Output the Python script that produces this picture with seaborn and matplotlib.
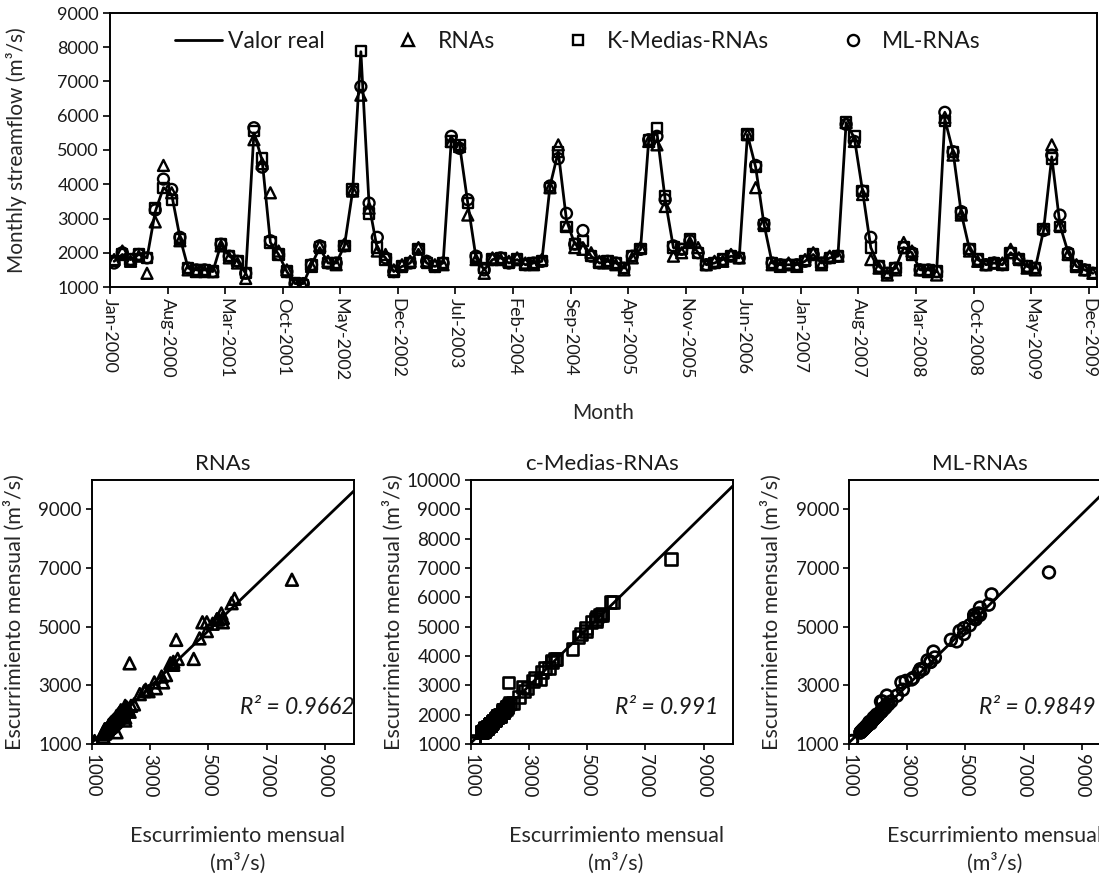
import numpy as np
import pandas as pd
import matplotlib
matplotlib.use("Agg")
import matplotlib.pyplot as plt
import seaborn as sns
from matplotlib.lines import Line2D

# ---------------- data ----------------
tick_labels = ["Jan-2000", "Aug-2000", "Mar-2001", "Oct-2001", "May-2002", "Dec-2002",
               "Jul-2003", "Feb-2004", "Sep-2004", "Apr-2005", "Nov-2005", "Jun-2006",
               "Jan-2007", "Aug-2007", "Mar-2008", "Oct-2008", "May-2009", "Dec-2009"]

valor_real = [1750, 1950, 1800, 1950, 1850, 3200, 3900, 3700, 2450, 1550,
              1500, 1500, 1450, 2250, 1900, 1750, 1400, 5500, 4700, 2300,
              1950, 1450, 1100, 1100, 1650, 2150, 1700, 1700, 2200, 3800,
              7870, 3400, 2100, 1850, 1450, 1600, 1700, 2100, 1700, 1600,
              1700, 5300, 5150, 3450, 1850, 1500, 1800, 1850, 1700, 1800,
              1650, 1700, 1750, 3950, 4950, 2950, 2250, 2300, 1900, 1700,
              1750, 1700, 1550, 1900, 2100, 5300, 5500, 3550, 2150, 2100,
              2350, 2000, 1650, 1700, 1800, 1900, 1850, 5450, 4500, 2850,
              1700, 1650, 1650, 1650, 1750, 1950, 1700, 1850, 1900, 5800,
              5350, 3800, 2150, 1600, 1400, 1550, 2150, 2000, 1500, 1500,
              1450, 5900, 4950, 3150, 2100, 1800, 1650, 1700, 1650, 2000,
              1800, 1600, 1550, 2650, 4800, 2800, 2000, 1600, 1500, 1400]

rnas = [1800, 2050, 1750, 1900, 1400, 2900, 4550, 3750, 2350, 1500,
        1450, 1450, 1450, 2200, 1850, 1700, 1250, 5300, 4600, 3750,
        2050, 1500, 1100, 1050, 1600, 2200, 1750, 1650, 2250, 3800,
        6600, 3300, 2050, 1950, 1500, 1650, 1750, 2150, 1750, 1650,
        1650, 5250, 5100, 3100, 1800, 1400, 1850, 1800, 1750, 1850,
        1700, 1650, 1800, 3900, 5150, 2800, 2150, 2100, 2000, 1750,
        1700, 1650, 1500, 1850, 2150, 5250, 5150, 3350, 1900, 2000,
        2300, 2150, 1650, 1750, 1750, 1950, 1850, 5450, 3900, 2850,
        1650, 1600, 1700, 1600, 1800, 2000, 1650, 1900, 1900, 5800,
        5250, 3700, 1800, 1550, 1350, 1500, 2300, 2050, 1500, 1450,
        1350, 5950, 4850, 3100, 2050, 1750, 1650, 1700, 1700, 2100,
        1850, 1550, 1500, 2700, 5150, 2800, 1950, 1650, 1500, 1400]

k_medias = [1750, 1950, 1800, 1950, 1850, 3300, 3900, 3550, 2400, 1550,
            1500, 1500, 1450, 2250, 1900, 1750, 1400, 5550, 4750, 2300,
            1950, 1450, 1100, 1050, 1650, 2150, 1700, 1700, 2200, 3850,
            7900, 3150, 2150, 1800, 1450, 1600, 1700, 2100, 1700, 1600,
            1700, 5250, 5150, 3450, 1850, 1550, 1800, 1850, 1700, 1800,
            1650, 1700, 1750, 3900, 4950, 2750, 2250, 2350, 1900, 1700,
            1750, 1700, 1550, 1900, 2100, 5300, 5650, 3650, 2150, 2100,
            2400, 2000, 1650, 1700, 1800, 1900, 1850, 5450, 4500, 2800,
            1700, 1650, 1650, 1650, 1750, 1950, 1700, 1850, 1900, 5800,
            5400, 3800, 2150, 1600, 1400, 1550, 2150, 1950, 1500, 1500,
            1450, 5850, 4950, 3150, 2100, 1800, 1650, 1700, 1650, 2000,
            1800, 1600, 1550, 2700, 4750, 2750, 1950, 1600, 1500, 1400]

# c-Medias-RNAs predictions shown in the lower middle scatter panel
c_medias = [1750, 1950, 1800, 1950, 1850, 3250, 3900, 3600, 2400, 1550,
            1500, 1500, 1450, 2250, 1900, 1750, 1400, 5450, 4650, 3100,
            1950, 1450, 1100, 1050, 1650, 2150, 1700, 1700, 2200, 3850,
            7320, 3200, 2150, 1800, 1450, 1600, 1700, 2100, 1700, 1600,
            1700, 5250, 5150, 3450, 1850, 1550, 1800, 1850, 1700, 1800,
            1650, 1700, 1750, 3900, 4850, 2900, 2250, 2350, 1900, 1700,
            1750, 1700, 1550, 1900, 2100, 5200, 5400, 3600, 2150, 2100,
            2400, 2000, 1650, 1700, 1800, 1900, 1850, 5400, 4250, 2800,
            1700, 1650, 1650, 1650, 1750, 1950, 1700, 1850, 1900, 5850,
            5350, 3800, 2150, 1600, 1400, 1550, 2150, 1950, 1500, 1500,
            1450, 5850, 4950, 3150, 2100, 1800, 1650, 1700, 1650, 2000,
            1800, 1600, 1550, 2600, 4750, 2950, 1950, 1600, 1500, 1400]

ml_rnas = [1700, 2000, 1800, 1950, 1850, 3250, 4150, 3850, 2450, 1550,
           1500, 1500, 1450, 2250, 1900, 1750, 1400, 5650, 4500, 2350,
           1950, 1450, 1100, 1100, 1650, 2200, 1700, 1700, 2200, 3800,
           6850, 3450, 2450, 1850, 1450, 1600, 1700, 2100, 1750, 1600,
           1700, 5400, 5050, 3550, 1900, 1500, 1800, 1850, 1700, 1800,
           1650, 1700, 1750, 3950, 4750, 3150, 2250, 2650, 1900, 1700,
           1750, 1700, 1550, 1900, 2100, 5300, 5400, 3550, 2200, 2100,
           2350, 2000, 1650, 1700, 1800, 1900, 1850, 5450, 4550, 2850,
           1700, 1650, 1650, 1650, 1750, 1950, 1700, 1850, 1900, 5750,
           5250, 3800, 2450, 1600, 1400, 1550, 2150, 2000, 1500, 1500,
           1450, 6100, 4950, 3200, 2100, 1800, 1650, 1700, 1650, 2000,
           1800, 1600, 1550, 2650, 4850, 3100, 2000, 1600, 1500, 1400]

r2_texts = ["R² = 0.9662", "R² = 0.991", "R² = 0.9849"]
panel_titles = ["RNAs", "c-Medias-RNAs", "ML-RNAs"]

# ---------------- style ----------------
sns.set_theme(style="white")
plt.rcParams['font.family'] = ['Lato', 'DejaVu Sans']
plt.rcParams['axes.edgecolor'] = 'black'
plt.rcParams['text.color'] = '#1a1a1a'
plt.rcParams['xtick.color'] = 'black'
plt.rcParams['ytick.color'] = 'black'
plt.rcParams['xtick.labelcolor'] = '#1a1a1a'
plt.rcParams['ytick.labelcolor'] = '#1a1a1a'

W, H = 1099, 882
fig = plt.figure(figsize=(W / 100, H / 100), dpi=100)


def ax_at(l, t, r, b):
    return fig.add_axes([l / W, 1 - b / H, (r - l) / W, (b - t) / H])


n = len(valor_real)
df = pd.DataFrame({"pos": np.arange(n) + 0.5, "real": valor_real,
                   "rnas": rnas, "kmed": k_medias, "cmed": c_medias, "ml": ml_rnas})

# ---------------- top time series ----------------
ax = ax_at(110, 13, 1097, 287)
sns.lineplot(data=df, x="pos", y="real", color="black", linewidth=2, ax=ax, zorder=2)
for col, mk, sz in [("rnas", "^", 62), ("kmed", "s", 55), ("ml", "o", 62)]:
    sns.scatterplot(data=df, x="pos", y=col, marker=mk, s=sz, facecolor="none",
                    edgecolor="black", linewidth=1.7, ax=ax, zorder=3)
ax.set_xlim(0, n)
ax.set_ylim(1000, 9000)
ax.set_xticks(np.arange(0, n, 7))
ax.set_xticklabels(tick_labels, rotation=-90, ha="center", va="top", fontsize=13)
ax.set_yticks(np.arange(1000, 9001, 1000))
ax.tick_params(axis="y", labelsize=13)
ax.tick_params(axis="both", direction="out", length=5, width=1.2, bottom=True, left=True, pad=3)
for sp in ax.spines.values():
    sp.set_linewidth(1.4)
    sp.set_color("black")
ax.set_xlabel("Month", fontsize=15, va="center")
ax.xaxis.set_label_coords(0.5, -(413 - 287) / 274)
ax.set_ylabel("Monthly streamflow (m³/s)", fontsize=15)
ax.yaxis.set_label_coords(-0.084, 0.5)

handles = [
    Line2D([], [], color="black", lw=2, label="Valor real"),
    Line2D([], [], ls="none", marker="^", ms=8, mfc="none", mec="black", mew=1.7, label="RNAs"),
    Line2D([], [], ls="none", marker="s", ms=7.5, mfc="none", mec="black", mew=1.7, label="K-Medias-RNAs"),
    Line2D([], [], ls="none", marker="o", ms=8, mfc="none", mec="black", mew=1.7, label="ML-RNAs"),
]
fig.legend(handles=handles, loc="center", bbox_to_anchor=(578 / W, 1 - 42 / H),
           ncol=4, frameon=False, fontsize=16.5, handlelength=2.05, handletextpad=0.26,
           columnspacing=2.6, borderpad=0, borderaxespad=0)

# ---------------- scatter panels ----------------
panels = [((91.7, 480, 354, 744), "rnas", "^", np.arange(1000, 9001, 2000), 0.566),
          ((470.7, 480, 732.7, 744), "cmed", "s", np.arange(1000, 10001, 1000), 0.55),
          ((849, 480, 1111, 744), "ml", "o", np.arange(1000, 9001, 2000), 0.496)]

for k, (box, col, mk, yt, rx) in enumerate(panels):
    a = ax_at(*box)
    a.set_xlim(1000, 10000)
    a.set_ylim(1000, 10000)
    sns.regplot(data=df, x="real", y=col, ci=None, truncate=False, scatter=False,
                color="black", line_kws=dict(linewidth=2), ax=a)
    sns.scatterplot(data=df, x="real", y=col, marker=mk, s=72, facecolor="none",
                    edgecolor="black", linewidth=1.9, ax=a, zorder=3)
    a.set_xlim(1000, 10000)
    a.set_ylim(1000, 10000)
    a.set_xticks(np.arange(1000, 9001, 2000))
    a.set_xticklabels([str(v) for v in np.arange(1000, 9001, 2000)], rotation=-90,
                      ha="center", va="top", fontsize=13.5)
    a.set_yticks(yt)
    a.tick_params(axis="y", labelsize=13.5)
    a.tick_params(axis="both", direction="out", length=4, width=1.2, bottom=True, left=True, pad=3)
    for sp in a.spines.values():
        sp.set_linewidth(1.4)
        sp.set_color("black")
    a.set_title(panel_titles[k], fontsize=16, pad=7)
    a.set_xlabel("Escurrimiento mensual\n(m³/s)", fontsize=15.5, va="top", linespacing=1.4)
    a.xaxis.set_label_coords(0.555, -0.31)
    a.set_ylabel("Escurrimiento mensual (m³/s)", fontsize=15.5)
    a.yaxis.set_label_coords(-0.256, 0.5)
    a.text(rx, 0.14, r2_texts[k], transform=a.transAxes, ha="left", va="center",
           fontsize=16.5, style="italic")

fig.savefig("out.png", dpi=100)
